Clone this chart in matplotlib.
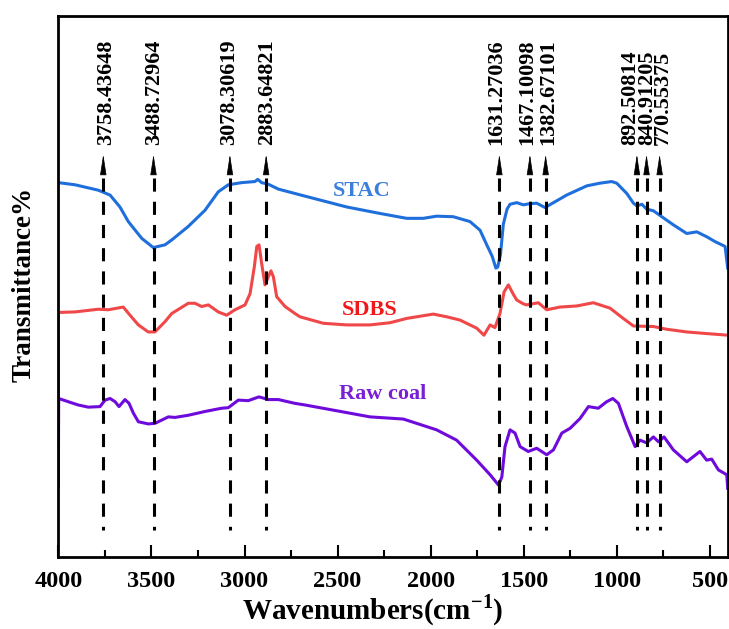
import matplotlib
matplotlib.use("Agg")
import matplotlib.pyplot as plt
from matplotlib.ticker import MultipleLocator

plt.rcParams['font.family'] = ['Liberation Serif', 'DejaVu Serif']
plt.rcParams['font.weight'] = 'bold'
plt.rcParams['mathtext.fontset'] = 'custom'
plt.rcParams['mathtext.rm'] = 'Liberation Serif:bold'
plt.rcParams['mathtext.bf'] = 'Liberation Serif:bold'

# ---- data (wavenumber cm-1, transmittance in arbitrary %) ----
stac_wn = [4000, 3910, 3785, 3722, 3669, 3624, 3552, 3490, 3427, 3391, 3302, 3212, 3141, 3087,
           3015, 2944, 2929, 2908, 2872, 2818, 2675, 2630, 2451, 2272, 2129, 2040, 1968, 1879,
           1789, 1735, 1699, 1670, 1650, 1640, 1625, 1610, 1590, 1574, 1538, 1503, 1467, 1431,
           1386, 1270, 1162, 1091, 1028, 1001, 947, 911, 893, 866, 840, 804, 759, 697, 625, 571,
           518, 473, 419, 405]
stac_t = [69.2, 68.8, 67.8, 66.9, 64.7, 62.0, 58.9, 57.2, 57.7, 58.6, 61.1, 64.1, 67.5, 68.8,
          69.2, 69.4, 69.8, 69.2, 68.9, 68.0, 66.7, 66.3, 64.7, 63.5, 62.6, 62.6, 63.0, 62.9,
          62.0, 60.4, 57.7, 55.6, 53.4, 53.6, 56.0, 61.5, 64.3, 65.2, 65.5, 65.1, 65.3, 65.4,
          64.6, 66.9, 68.6, 69.1, 69.4, 69.1, 67.2, 65.4, 64.9, 65.2, 64.3, 64.0, 62.9, 61.4,
          59.8, 60.1, 59.2, 58.3, 57.4, 53.4]

sdbs_wn = [4000, 4000, 3910, 3785, 3731, 3651, 3615, 3570, 3517, 3481, 3427, 3391, 3302, 3266,
           3230, 3194, 3141, 3096, 3051, 2997, 2970, 2947, 2934, 2922, 2908, 2890, 2872, 2858,
           2845, 2827, 2782, 2729, 2702, 2577, 2451, 2326, 2219, 2129, 2022, 1986, 1914, 1843,
           1753, 1714, 1681, 1655, 1628, 1606, 1583, 1557, 1538, 1503, 1485, 1422, 1377, 1306,
           1216, 1127, 1037, 966, 911, 804, 733, 625, 518, 405]
sdbs_t = [41.0, 45.2, 45.3, 45.8, 45.7, 46.2, 44.7, 42.9, 41.6, 41.6, 43.5, 45.0, 46.9, 46.9,
          46.3, 46.6, 45.3, 44.7, 45.7, 46.6, 48.7, 53.7, 57.4, 57.7, 54.3, 50.3, 51.8, 52.9,
          51.8, 48.1, 46.3, 45.0, 44.4, 43.2, 42.9, 42.9, 43.3, 44.1, 44.7, 44.9, 44.4, 43.8,
          42.3, 41.0, 42.9, 42.4, 45.0, 49.0, 50.3, 48.6, 47.5, 46.8, 46.6, 47.0, 45.7, 46.2,
          46.4, 47.0, 46.0, 44.1, 42.7, 42.6, 42.1, 41.6, 41.3, 41.0]

raw_wn = [4000, 4000, 3998, 3946, 3893, 3839, 3776, 3749, 3722, 3695, 3674, 3642, 3620, 3597,
          3570, 3517, 3481, 3409, 3373, 3302, 3212, 3123, 3087, 3033, 2980, 2922, 2872, 2818,
          2729, 2675, 2500, 2326, 2147, 1968, 1861, 1753, 1681, 1636, 1618, 1601, 1574, 1547,
          1520, 1476, 1431, 1377, 1341, 1296, 1251, 1198, 1153, 1100, 1055, 1022, 992, 947,
          902, 876, 840, 804, 777, 747, 697, 625, 554, 518, 491, 455, 410, 405]
raw_t = [40.5, 12.8, 29.3, 28.7, 28.1, 27.7, 27.8, 29.0, 29.3, 28.7, 27.8, 29.1, 28.4, 26.6,
         25.0, 24.6, 24.7, 25.9, 25.8, 26.2, 26.9, 27.5, 27.6, 29.0, 28.9, 29.6, 29.1, 29.1,
         28.4, 28.1, 27.0, 25.9, 25.5, 23.5, 21.6, 17.9, 15.2, 13.3, 14.8, 20.4, 23.5, 22.9,
         20.4, 19.5, 20.1, 18.9, 19.8, 22.9, 23.8, 25.6, 27.8, 27.5, 28.7, 29.3, 28.4, 24.1,
         20.4, 21.6, 21.1, 22.2, 21.3, 22.2, 19.8, 17.6, 19.5, 17.9, 18.1, 16.1, 15.2, 12.7]

peak_wn = [3758.43648, 3488.72964, 3078.30619, 2883.64821, 1631.27036, 1467.10098,
           1382.67101, 892.50814, 840.91205, 770.55375]
peak_labels = ["3758.43648", "3488.72964", "3078.30619", "2883.64821", "1631.27036",
               "1467.10098", "1382.67101", "892.50814", "840.91205", "770.55375"]
label_dx = [3, 1, -1, 1, -3, -3, 3, -7, 1, 3]   # pixel nudges of the labels

series_names = ["STAC", "SDBS", "Raw coal"]
line_colors = ["#1E6FDC", "#F04848", "#6E0ADC"]
text_colors = ["#3A7FDA", "#F01818", "#7A1FD6"]
name_pos = [(2369, 67.7), (2326, 45.7), (2256, 30.1)]

W, H = 729, 629
fig = plt.figure(figsize=(W / 100, H / 100), dpi=100)
ax = fig.add_axes([58.3 / W, (H - 557) / H, (727.7 - 58.3) / W, (557 - 16) / H])

for wn, t, c in zip([stac_wn, sdbs_wn, raw_wn], [stac_t, sdbs_t, raw_t], line_colors):
    ax.plot(wn, t, color=c, lw=2.2, solid_joinstyle='round', zorder=2)

for name, (x, y), c in zip(series_names, name_pos, text_colors):
    ax.text(x, y, name, color=c, fontsize=16, fontweight='bold', ha='center', va='center')

t_top, t_bot = 70.1, 5.0
for wn, lab, dx in zip(peak_wn, peak_labels, label_dx):
    ax.plot([wn, wn], [t_top, t_bot], color='k', lw=2.2, dashes=(4.3, 3.3), zorder=3)
    ax.annotate('', xy=(wn, 74.4), xytext=(wn, 71.0),
                arrowprops=dict(arrowstyle='-|>,head_length=1.3,head_width=0.2',
                                color='k', lw=0.5, shrinkA=0, shrinkB=0, mutation_scale=10))
    ax.annotate(lab, xy=(wn, 76.1), xytext=(dx * 0.72, 0), textcoords='offset points',
                rotation=90, ha='center', va='bottom', fontsize=16, fontweight='bold')

ax.set_xlim(4000, 405)
ax.set_ylim(0, 100)
ax.xaxis.set_major_locator(MultipleLocator(500))
ax.xaxis.set_minor_locator(MultipleLocator(250))
ax.tick_params(axis='x', which='major', direction='in', length=8.6, width=1.5,
               labelsize=17.5, pad=10, top=False)
ax.tick_params(axis='x', which='minor', direction='in', length=5, width=1.5, top=False)
ax.set_yticks([])
for lab in ax.get_xticklabels():
    lab.set_fontweight('bold')
for s in ax.spines.values():
    s.set_linewidth(2.0)

ax.text(0.47, -0.1146, 'Wavenumbers(cm$^{\\mathbf{-1}}$)', transform=ax.transAxes,
        ha='center', va='baseline', fontsize=21, fontweight='bold')
ax.text(-0.0512, 0.503, 'Transmittance%', transform=ax.transAxes, rotation=90,
        ha='center', va='center', fontsize=19.5, fontweight='bold')

fig.savefig("out.png", dpi=100)
